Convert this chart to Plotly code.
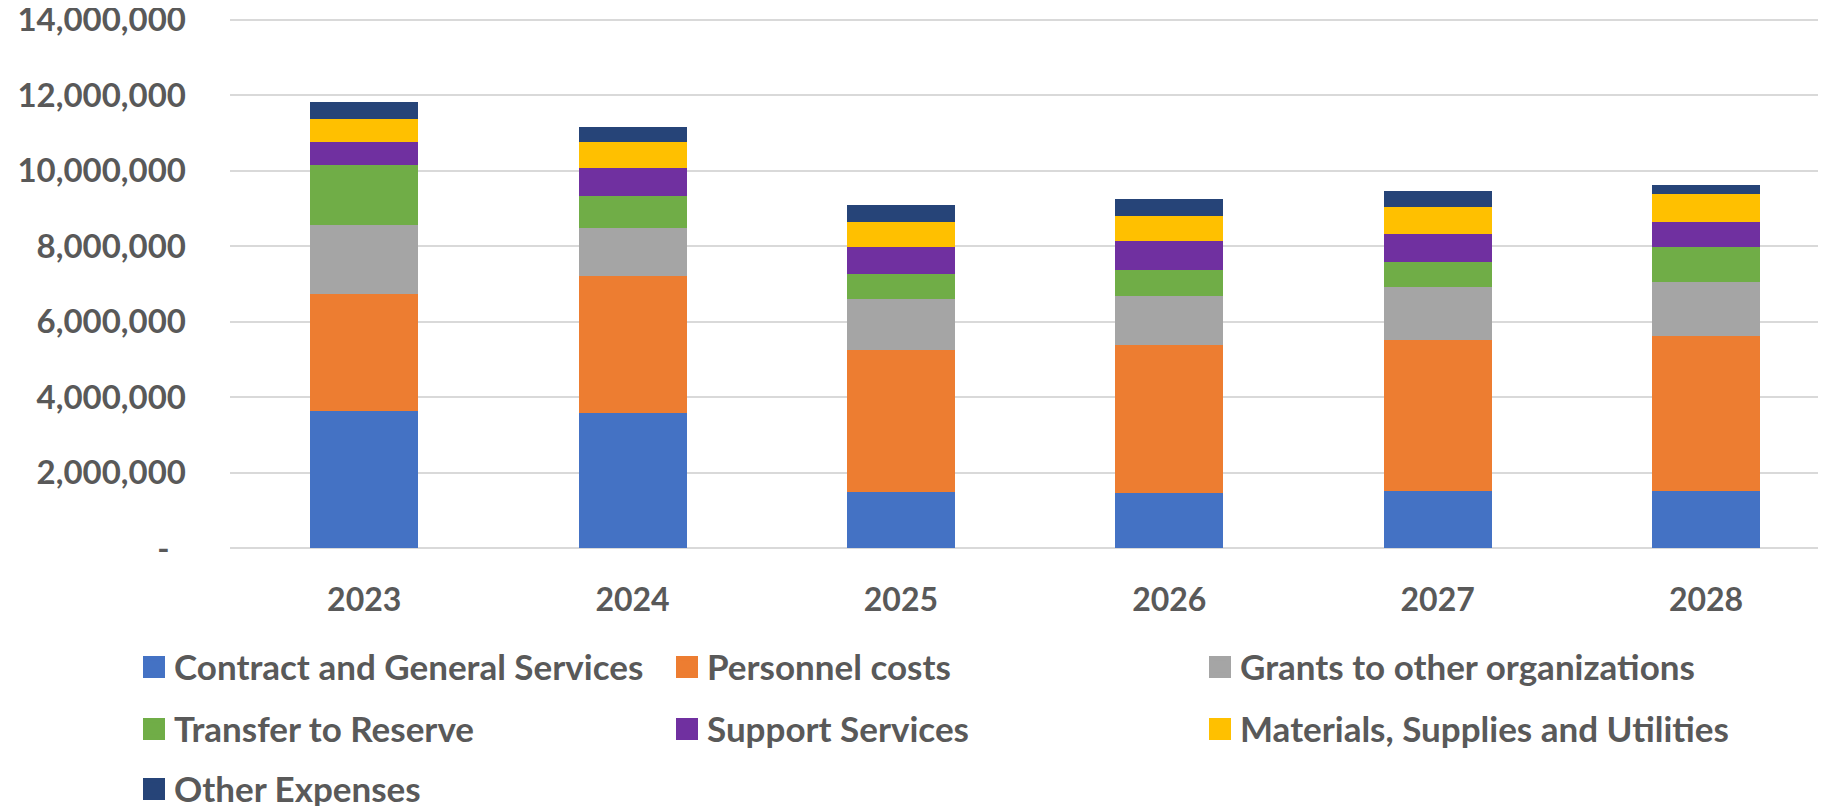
import plotly.graph_objects as go

years = ["2023", "2024", "2025", "2026", "2027", "2028"]

contract_general = [3620000, 3580000, 1480000, 1450000, 1500000, 1500000]
personnel = [3110000, 3630000, 3780000, 3920000, 4000000, 4110000]
grants = [1820000, 1260000, 1350000, 1320000, 1430000, 1430000]
transfer_reserve = [1590000, 850000, 640000, 690000, 660000, 930000]
support = [610000, 760000, 720000, 770000, 720000, 680000]
materials = [610000, 670000, 680000, 660000, 720000, 720000]
other = [470000, 420000, 430000, 430000, 420000, 260000]

series_names = [
    "Contract and General Services",
    "Personnel costs",
    "Grants to other organizations",
    "Transfer to Reserve",
    "Support Services",
    "Materials, Supplies and Utilities",
    "Other Expenses",
]
series_values = [contract_general, personnel, grants, transfer_reserve, support, materials, other]
series_colors = ["#4472C4", "#ED7D31", "#A5A5A5", "#70AD47", "#7030A0", "#FFC000", "#264478"]
legend_ids = ["legend", "legend", "legend", "legend2", "legend2", "legend2", "legend3"]

y_tickvals = [0, 2000000, 4000000, 6000000, 8000000, 10000000, 12000000, 14000000]
y_ticktext = ["-\u2002", "2,000,000", "4,000,000", "6,000,000", "8,000,000", "10,000,000", "12,000,000", "14,000,000"]

FONT = "Lato"
GRAY = "#595959"

fig = go.Figure()
for name, vals, col, lg in zip(series_names, series_values, series_colors, legend_ids):
    fig.add_trace(go.Bar(x=years, y=vals, name=name, marker=dict(color=col, line=dict(width=0)), legend=lg))

# the page body adds an 8px offset, so the figure is 8px smaller than the window
W, H = 1818, 798
ml, mr, mt, mb = 222, 0, 8, 258
plot_h = H - mt - mb
plot_w = W - ml - mr


def ypaper(px):
    return 1 - (px - mt) / plot_h


def xpaper(px):
    return (px - ml) / plot_w


leg_common = dict(
    orientation="h",
    xanchor="left",
    yanchor="middle",
    entrywidth=488,
    entrywidthmode="pixels",
    font=dict(family=FONT, size=35, color=GRAY, weight="bold"),
    bgcolor="rgba(0,0,0,0)",
    traceorder="normal",
)

legend_x_px = 126
legend_rows_px = [659, 721, 781]
col_step = 533

# larger square legend keys (Excel-like), drawn behind the native legend symbols
row_of = [0, 0, 0, 1, 1, 1, 2]
col_of = [0, 1, 2, 0, 1, 2, 0]
half = 11
for col, r, c in zip(series_colors, row_of, col_of):
    cx = legend_x_px + 20 + c * col_step
    cy = legend_rows_px[r]
    fig.add_shape(
        type="rect", xref="paper", yref="paper",
        x0=xpaper(cx - half), x1=xpaper(cx + half),
        y0=ypaper(cy + half), y1=ypaper(cy - half),
        fillcolor=col, line=dict(width=0), layer="above",
    )

fig.update_layout(
    width=W,
    height=H,
    margin=dict(l=ml, r=mr, t=mt, b=mb, autoexpand=False),
    paper_bgcolor="white",
    plot_bgcolor="white",
    barmode="stack",
    bargap=0.598,
    xaxis=dict(
        type="category",
        range=[-0.5, 5.447],
        automargin=False,
        showgrid=False,
        showline=False,
        ticks="",
        ticklabelstandoff=30,
        tickfont=dict(family=FONT, size=32, color=GRAY, weight="bold"),
    ),
    yaxis=dict(
        range=[0, 14100000],
        automargin=False,
        tickvals=y_tickvals,
        ticktext=y_ticktext,
        ticklabeloverflow="allow",
        showgrid=True,
        gridcolor="#D9D9D9",
        gridwidth=2,
        zeroline=True,
        zerolinecolor="#D9D9D9",
        zerolinewidth=2,
        showline=False,
        ticks="",
        ticklabelstandoff=43,
        tickfont=dict(family=FONT, size=33, color=GRAY, weight="bold"),
    ),
    legend=dict(x=xpaper(legend_x_px), y=ypaper(legend_rows_px[0]), **leg_common),
    legend2=dict(x=xpaper(legend_x_px), y=ypaper(legend_rows_px[1]), **leg_common),
    legend3=dict(x=xpaper(legend_x_px), y=ypaper(legend_rows_px[2]), **leg_common),
)

fig.write_html("out.html")
